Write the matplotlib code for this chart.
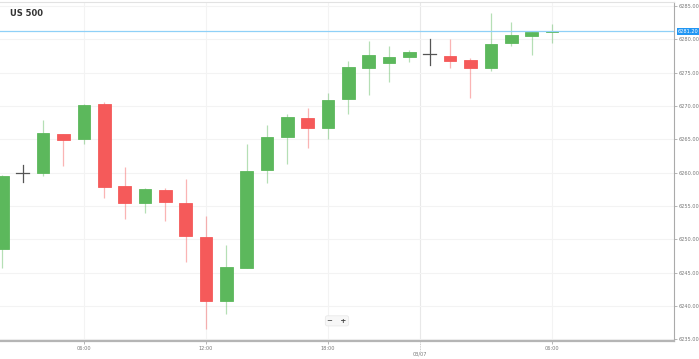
import matplotlib
matplotlib.use("Agg")
import matplotlib.pyplot as plt
from matplotlib.patches import Rectangle

# hourly candles, 03/06 02:00 -> 03/07 06:00 (no 23:00 bar)
opens = [6248.5, 6260.0, 6259.9, 6265.75, 6265.0, 6270.25, 6258.0, 6255.4,
         6257.4, 6255.4, 6250.4, 6240.75, 6245.75, 6260.4, 6265.35, 6268.25,
         6266.75, 6271.0, 6275.7, 6276.4, 6277.3, 6277.75, 6277.5, 6276.9,
         6275.65, 6279.4, 6280.5, 6281.15]
closes = [6259.5, 6260.0, 6265.9, 6264.95, 6270.1, 6257.85, 6255.5, 6257.55,
          6255.55, 6250.5, 6240.7, 6245.9, 6260.25, 6265.4, 6268.4, 6266.7,
          6270.85, 6275.85, 6277.6, 6277.3, 6278.05, 6277.75, 6276.8, 6275.65,
          6279.3, 6280.7, 6281.1, 6281.2]
highs = [6259.6, 6261.2, 6267.9, 6265.8, 6270.3, 6270.55, 6260.85, 6257.75,
         6257.75, 6259.0, 6253.5, 6249.15, 6264.25, 6267.15, 6268.75, 6269.65,
         6271.9, 6276.75, 6279.8, 6279.0, 6278.4, 6280.0, 6280.0, 6277.15,
         6283.9, 6282.65, 6281.25, 6282.25]
lows = [6245.7, 6258.6, 6259.55, 6261.0, 6264.25, 6256.25, 6253.1, 6253.9,
        6252.75, 6246.65, 6236.5, 6238.8, 6245.65, 6258.4, 6261.3, 6263.75,
        6265.0, 6268.75, 6271.65, 6273.55, 6276.55, 6276.1, 6275.65, 6271.15,
        6275.3, 6279.05, 6277.65, 6279.4]
doji = [1, 21]  # drawn as dark crosses

time_ticks = [4, 10, 16, 27]
time_labels = ["06:00", "12:00", "18:00", "06:00"]
day_pos = 20.5
day_label = "03/07"
y_ticks = [6235, 6240, 6245, 6250, 6255, 6260, 6265, 6270, 6275, 6280, 6285]
last_price = 6281.20
title = "US 500"

GREEN = "#5cb85c"
RED = "#f55a5a"
GRID = "#f3f3f3"

fig = plt.figure(figsize=(6.99, 3.59), dpi=100)
ax = fig.add_axes([0, 18.5 / 359, 674 / 699, 338.5 / 359])

w = 0.62
for i, (o, c, h, l) in enumerate(zip(opens, closes, highs, lows)):
    if i in doji:
        ax.plot([i, i], [l, h], color="#555555", lw=0.9, zorder=3)
        ax.plot([i - 0.31, i + 0.31], [o, o], color="#555555", lw=0.9, zorder=3)
        continue
    col = GREEN if c >= o else RED
    ax.plot([i, i], [l, h], color=col, lw=0.9, alpha=0.45, zorder=2,
            solid_capstyle="butt")
    lo, hi = min(o, c), max(o, c)
    ax.add_patch(Rectangle((i - w / 2, lo), w, max(hi - lo, 0.12),
                           facecolor=col, edgecolor=col, lw=0.6, zorder=3))

# current price line
ax.axhline(last_price, color="#8fd0f7", lw=0.9, zorder=4)

ax.set_xlim(-0.12, 33.0)
ax.set_ylim(6234.8, 6285.6)

ax.set_yticks(y_ticks)
ax.set_yticklabels([f"{v:.2f}" for v in y_ticks])
ax.yaxis.tick_right()
ax.tick_params(axis="y", length=2, width=0.5, color="#999999", labelsize=3.6,
               labelcolor="#777777", pad=1.5)

ax.set_xticks(time_ticks)
ax.set_xticklabels(time_labels)
ax.tick_params(axis="x", length=2, width=0.5, color="#999999", labelsize=3.6,
               labelcolor="#777777", pad=2)

ax.grid(True, color=GRID, lw=0.8, zorder=0)
ax.axvline(day_pos, color="#e8e8e8", lw=0.8, zorder=0)
ax.plot([day_pos, day_pos], [-0.005, -0.03], transform=ax.get_xaxis_transform(),
        color="#bbbbbb", lw=0.6, ls=(0, (1, 1)), clip_on=False)
ax.text(day_pos, -0.032, day_label, transform=ax.get_xaxis_transform(),
        ha="center", va="top", fontsize=3.6, color="#777777")

ax.spines["left"].set_visible(False)
ax.spines["top"].set_color("#e2e2e2")
ax.spines["top"].set_linewidth(0.8)
ax.spines["right"].set_color("#aaaaaa")
ax.spines["right"].set_linewidth(0.8)
ax.spines["bottom"].set_color("#b5b5b5")
ax.spines["bottom"].set_linewidth(1.6)

# last price tag
ax.text(1.006, last_price, f"{last_price:.2f}", transform=ax.get_yaxis_transform(),
        ha="left", va="center", fontsize=3.6, color="white", zorder=6,
        bbox=dict(boxstyle="square,pad=0.25", fc="#2196f3", ec="none"),
        clip_on=False)

ax.text(10 / 674, 1 - 11 / 338.5, title, transform=ax.transAxes, ha="left",
        va="center", fontsize=6, fontweight="bold", color="#333333")

# zoom buttons
ax.text(337 / 674, 0.058, "\u2212   +", transform=ax.transAxes, ha="center",
        va="center", fontsize=5, fontweight="bold", color="#444444",
        bbox=dict(boxstyle="round,pad=0.3", fc="#f7f7f7", ec="#e6e6e6", lw=0.5))

fig.savefig("out.png", dpi=100)
